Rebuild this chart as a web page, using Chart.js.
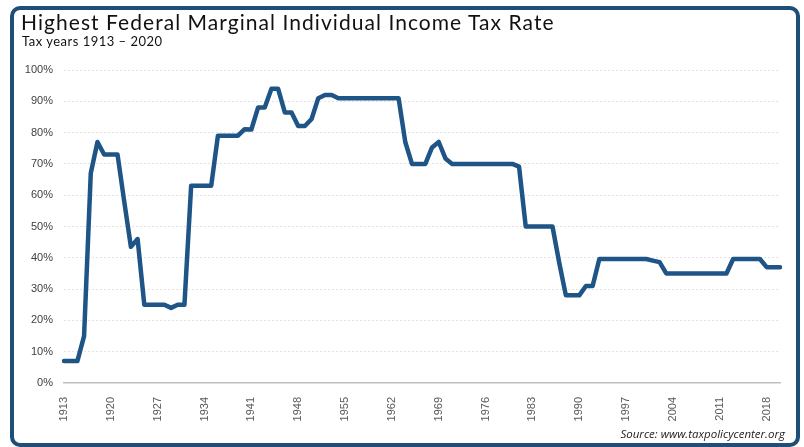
<!DOCTYPE html>
<html>
<head>
<meta charset="utf-8">
<script src="https://cdn.jsdelivr.net/npm/chart.js@4.4.0/dist/chart.umd.min.js"></script>
<style>
  html, body { margin: 0; padding: 0; background: #fff; }
  #wrap { position: relative; width: 804px; height: 447px; overflow: hidden; }
  #frame {
    position: absolute; left: 10px; top: 6px; width: 790px; height: 441px;
    box-sizing: border-box; border: 4px solid #1f4e79; border-radius: 10px;
  }
  #chart { position: absolute; left: 0; top: 0; }
  .title { position: absolute; left: 21px; top: 9px; font-family: Lato, "Open Sans", sans-serif;
    font-size: 21px; letter-spacing: 1.05px; color: #111; white-space: nowrap; }
  .subtitle { position: absolute; left: 22px; top: 33px; font-family: Lato, "Open Sans", sans-serif;
    font-size: 13px; letter-spacing: 0.5px; color: #111; white-space: nowrap; }
  .source { position: absolute; right: 19px; top: 426px; font-family: "Open Sans", sans-serif;
    font-style: italic; font-size: 11.5px; color: #222; white-space: nowrap; }
</style>
</head>
<body>
<div id="wrap">
  <canvas id="chart" width="804" height="447"></canvas>
  <div id="frame"></div>
  <div class="title">Highest Federal Marginal Individual Income Tax Rate</div>
  <div class="subtitle">Tax years 1913 – 2020</div>
  <div class="source">Source: www.taxpolicycenter.org</div>
</div>
<script>
// tax years shown on the x axis
const years = [
  1913, 1914, 1915, 1916, 1917, 1918, 1919, 1920, 1921, 1922,
  1923, 1924, 1925, 1926, 1927, 1928, 1929, 1930, 1931, 1932,
  1933, 1934, 1935, 1936, 1937, 1938, 1939, 1940, 1941, 1942,
  1943, 1944, 1945, 1946, 1947, 1948, 1949, 1950, 1951, 1952,
  1953, 1954, 1955, 1956, 1957, 1958, 1959, 1960, 1961, 1962,
  1963, 1964, 1965, 1966, 1967, 1968, 1969, 1970, 1971, 1972,
  1973, 1974, 1975, 1976, 1977, 1978, 1979, 1980, 1981, 1982,
  1983, 1984, 1985, 1986, 1987, 1988, 1989, 1990, 1991, 1992,
  1993, 1994, 1995, 1996, 1997, 1998, 1999, 2000, 2001, 2002,
  2003, 2004, 2005, 2006, 2007, 2008, 2009, 2010, 2011, 2012,
  2013, 2014, 2015, 2016, 2017, 2018, 2019, 2020
];

// top marginal rate, percent
const topRate = [
  7, 7, 7, 15, 67, 77, 73, 73, 73, 58,
  43.5, 46, 25, 25, 25, 25, 24, 25, 25, 63,
  63, 63, 63, 79, 79, 79, 79, 81.1, 81, 88,
  88, 94, 94, 86.45, 86.45, 82.13, 82.13, 84.36, 91, 92,
  92, 91, 91, 91, 91, 91, 91, 91, 91, 91,
  91, 77, 70, 70, 70, 75.25, 77, 71.75, 70, 70,
  70, 70, 70, 70, 70, 70, 70, 70, 69.13, 50,
  50, 50, 50, 50, 38.5, 28, 28, 28, 31, 31,
  39.6, 39.6, 39.6, 39.6, 39.6, 39.6, 39.6, 39.6, 39.1, 38.6,
  35, 35, 35, 35, 35, 35, 35, 35, 35, 35,
  39.6, 39.6, 39.6, 39.6, 39.6, 37, 37, 37
];

// labelled years on the axis
const tickYears = [1913, 1920, 1927, 1934, 1941, 1948, 1955, 1962, 1969, 1976, 1983, 1990, 1997, 2004, 2011, 2018];

const ctx = document.getElementById('chart');

new Chart(ctx, {
  type: 'line',
  data: {
    labels: years.map(String),
    datasets: [{
      data: topRate,
      borderColor: '#1f5487',
      borderWidth: 4.5,
      borderJoinStyle: 'round',
      borderCapStyle: 'round',
      pointRadius: 0,
      tension: 0,
      fill: false
    }]
  },
  options: {
    responsive: false,
    animation: false,
    layout: { padding: { top: 70, right: 24, bottom: 24, left: 0 } },
    plugins: {
      legend: { display: false },
      tooltip: { enabled: false }
    },
    scales: {
      x: {
        afterFit: s => { s.height = 40; },
        grid: { display: false },
        border: { display: true, color: '#bfbfbf', width: 1.5 },
        ticks: {
          autoSkip: false,
          minRotation: 90,
          maxRotation: 90,
          padding: 6,
          color: '#595959',
          font: { family: '"Liberation Sans", Arial, sans-serif', size: 11 },
          callback: function (v) {
            const y = years[v];
            return tickYears.includes(y) ? String(y) : '';
          }
        }
      },
      y: {
        min: 0,
        max: 100,
        afterFit: s => { s.width = 64; },
        border: { display: false, dash: [2, 2] },
        grid: {
          drawTicks: false,
          color: c => c.tick.value === 0 ? 'rgba(0,0,0,0)' : '#e3e3e3',
          lineWidth: 1
        },
        ticks: {
          stepSize: 10,
          padding: 11,
          color: '#404040',
          font: { family: '"Liberation Sans", Arial, sans-serif', size: 11 },
          callback: v => v + '%'
        }
      }
    }
  }
});
</script>
</body>
</html>
